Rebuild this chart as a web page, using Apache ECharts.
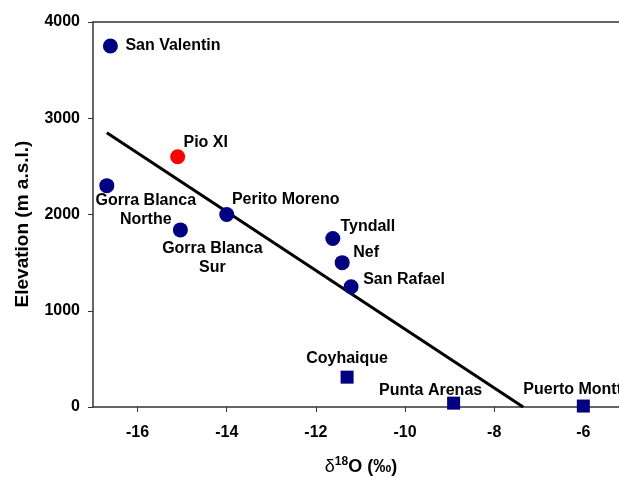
<!DOCTYPE html>
<html>
<head>
<meta charset="utf-8">
<script src="https://cdn.jsdelivr.net/npm/echarts@6/dist/echarts.min.js"></script>
<style>html,body{margin:0;padding:0;background:#fff}#c{width:619px;height:477px}</style>
</head>
<body>
<div id="c"></div>
<script>
// Glaciers (circles)
const glacierNames = ['San Valentin','Gorra Blanca\nNorthe','Perito Moreno','Gorra Blanca\nSur','Tyndall','Nef','San Rafael'];
const glacierD18O = [-16.61, -16.69, -14.0, -15.04, -11.62, -11.41, -11.21];
const glacierElev = [3750, 2300, 2000, 1840, 1750, 1500, 1250];
// Pio XI (red)
const pioNames = ['Pio XI'];
const pioD18O = [-15.10];
const pioElev = [2600];
// Stations (squares)
const stationNames = ['Coyhaique','Punta Arenas','Puerto Montt'];
const stationD18O = [-11.30, -8.91, -6.0];
const stationElev = [310, 40, 10];
// Regression line end points
const fitD18O = [-16.69, -7.35];
const fitElev = [2849, 0];
// Axis ticks
const xTicks = [-16, -14, -12, -10, -8, -6];
const yTicks = [0, 1000, 2000, 3000, 4000];

// label offsets (presentation only)
const glacierOffsets = [[15,0,'left'],[39,24,'center'],[59,-15,'center'],[32,28,'center'],[35,-12,'center'],[24,-10,'center'],[53,-7,'center']];
const pioOffsets = [[28,-14,'center']];
const stationOffsets = [[0,-19,'center'],[-23,-13,'center'],[-60,-16,'left']];

const FONT = '"Liberation Sans", Arial, sans-serif';
function mk(names, xs, ys, offs) {
  return names.map((n, i) => ({
    name: n,
    value: [xs[i], ys[i]],
    label: { show: true, position: 'inside', offset: [offs[i][0], offs[i][1]], align: offs[i][2],
      formatter: n, color: '#000', opacity: 1, fontFamily: FONT, fontWeight: 'bold', fontSize: 16, lineHeight: 19 }
  }));
}

const chart = echarts.init(document.getElementById('c'), null, {renderer: 'canvas'});
chart.setOption({
  animation: false,
  backgroundColor: '#fff',
  grid: { left: 93, top: 22, bottom: 70, right: 0, show: false, containLabel: false },
  xAxis: [{
    type: 'value', min: -17, max: -5.2,
    axisLine: { show: true, onZero: false, lineStyle: { color: '#333', width: 1.5 } },
    axisTick: { show: true, length: 5, inside: false, customValues: xTicks, lineStyle: { color: '#333' } },
    axisLabel: { customValues: xTicks, color: '#000', fontFamily: FONT, fontWeight: 'bold', fontSize: 16, margin: 18 },
    splitLine: { show: false }
  }, {
    type: 'value', position: 'top', min: -17, max: -5.2,
    axisLine: { show: true, onZero: false, lineStyle: { color: '#333', width: 1.5 } },
    axisTick: { show: false }, axisLabel: { show: false }, splitLine: { show: false }
  }],
  yAxis: {
    type: 'value', min: 0, max: 4000, interval: 1000,
    axisLine: { show: true, onZero: false, lineStyle: { color: '#333', width: 1.5 } },
    axisTick: { show: true, length: 5, inside: false, lineStyle: { color: '#333' } },
    axisLabel: { color: '#000', fontFamily: FONT, fontWeight: 'bold', fontSize: 16, margin: 13,
      formatter: v => String(v) },
    splitLine: { show: false }
  },
  graphic: [
    { type: 'text', x: 23, y: 224, rotation: Math.PI / 2,
      style: { text: 'Elevation (m a.s.l.)', fill: '#000', font: 'bold 19px ' + FONT, align: 'center', verticalAlign: 'middle' } },
    { type: 'text', x: 361, y: 467,
      style: { text: '{d|δ}{s|18}{o|O (‰)}', align: 'center', verticalAlign: 'middle',
        rich: {
          d: { fill: '#000', fontFamily: FONT, fontSize: 18, fontWeight: 'normal' },
          s: { fill: '#000', fontFamily: FONT, fontSize: 12, fontWeight: 'bold', verticalAlign: 'bottom', padding: [0,0,10,0] },
          o: { fill: '#000', fontFamily: FONT, fontSize: 18, fontWeight: 'bold' }
        } } }
  ],
  series: [
    { type: 'line', data: fitD18O.map((x, i) => [x, fitElev[i]]), symbol: 'none',
      lineStyle: { color: '#000', width: 3 }, z: 1 },
    { type: 'scatter', data: mk(glacierNames, glacierD18O, glacierElev, glacierOffsets), symbol: 'circle', symbolSize: 15,
      itemStyle: { color: '#000080', opacity: 1 }, z: 3 },
    { type: 'scatter', data: mk(pioNames, pioD18O, pioElev, pioOffsets), symbol: 'circle', symbolSize: 15,
      itemStyle: { color: '#ff0000', opacity: 1 }, z: 3 },
    { type: 'scatter', data: mk(stationNames, stationD18O, stationElev, stationOffsets), symbol: 'rect', symbolSize: 13,
      itemStyle: { color: '#000080', opacity: 1 }, z: 3 }
  ]
});
</script>
</body>
</html>
